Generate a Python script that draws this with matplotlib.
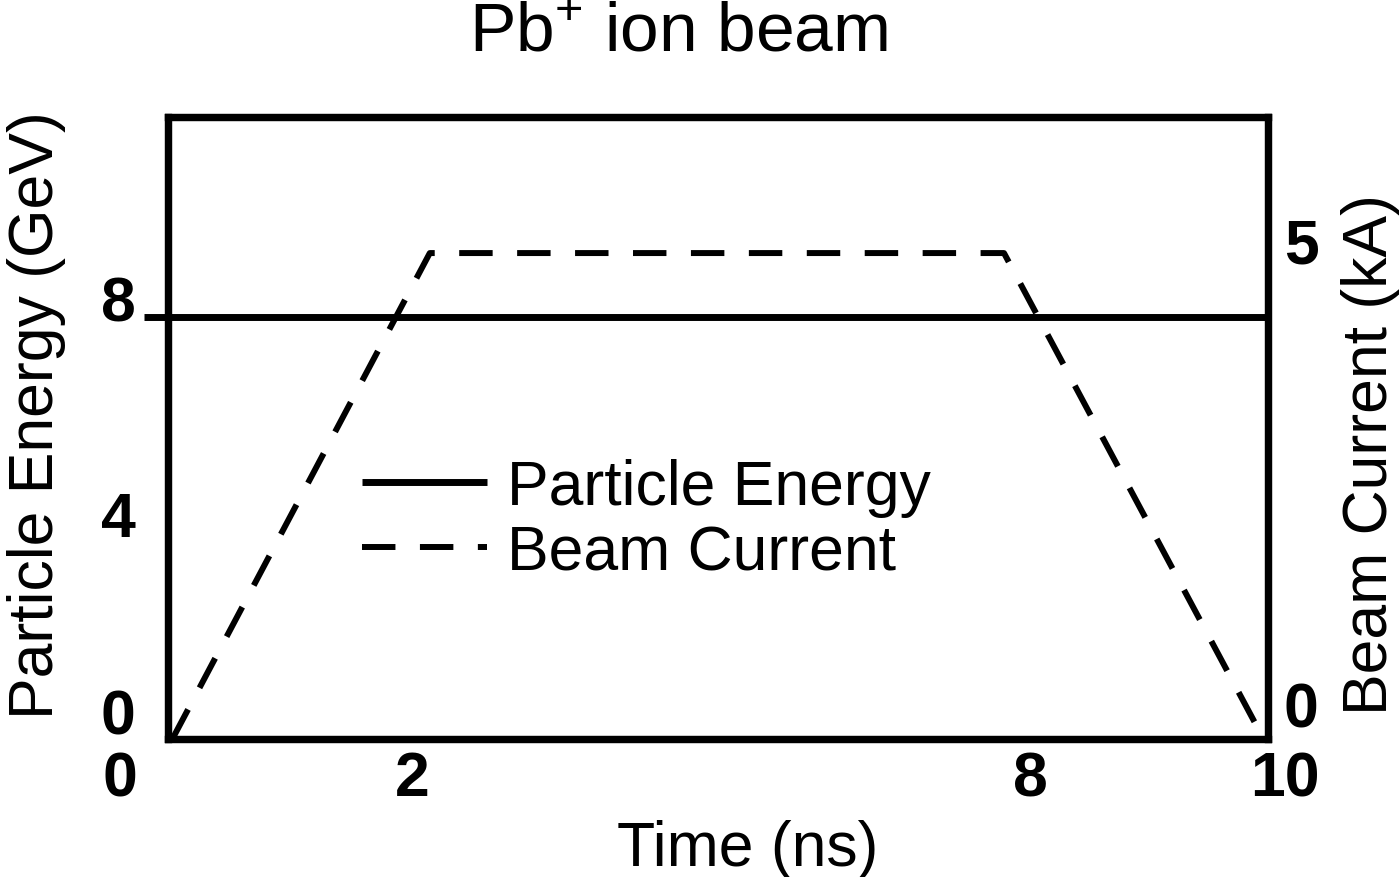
import matplotlib
matplotlib.use("Agg")
import matplotlib.pyplot as plt
from matplotlib.transforms import blended_transform_factory

plt.rcParams['font.family'] = ['Liberation Sans', 'DejaVu Sans']
plt.rcParams['mathtext.fontset'] = 'custom'
plt.rcParams['mathtext.rm'] = 'Liberation Sans'

# data
energy_t = [0, 10]
energy_gev = [8, 8]
current_t = [0.04, 2.38, 7.6, 9.96]
current_ka = [0, 5, 5, 0]

x_tick_pos = [-0.44, 2.22, 7.84, 10.15]
x_tick_labels = ["0", "2", "8", "10"]
left_ticks = [0, 4, 8]
right_ticks = [0, 5]

W, H = 1400, 878
fig = plt.figure(figsize=(14, 8.78), dpi=100)
ax = fig.add_axes([168 / W, 1 - 740 / H, 1100 / W, 622 / H])
ax2 = ax.twinx()

lw_frame = 5.2
for a in (ax, ax2):
    for s in a.spines.values():
        s.set_linewidth(lw_frame)
    a.set_xlim(0, 10)

ax.set_ylim(0, 11.79)
ax2.set_ylim(0, 6.4)

l1, = ax.plot(energy_t, energy_gev, color="black", lw=5, solid_capstyle="butt",
              label="Particle Energy", clip_on=False)
l2, = ax2.plot(current_t, current_ka, color="black", lw=4.3,
               linestyle=(0, (5.6, 4.1)), label="Beam Current")

ax.set_xticks([])
# only the 8 GeV tick is drawn, labels are placed by hand below
ax.set_yticks([8])
ax.set_yticklabels([])
ax.tick_params(axis="y", length=17, width=5, direction="out")
ax2.set_yticks([])

tfont = dict(fontsize=45, fontweight="bold", ha="center", va="center")
xb = blended_transform_factory(ax.transData, fig.transFigure)
for xp, lab in zip(x_tick_pos, x_tick_labels):
    ax.text(xp, 1 - 780 / H, lab, transform=xb, clip_on=False, **tfont)

left_off = {0: 0.42, 4: 0.17, 8: 0.25}
yb = blended_transform_factory(fig.transFigure, ax.transData)
for yv in left_ticks:
    ax.text(118 / W, yv + left_off[yv], str(yv), transform=yb, clip_on=False, **tfont)
right_off = {0: 0.3, 5: 0.07}
yb2 = blended_transform_factory(fig.transFigure, ax2.transData)
for yv in right_ticks:
    ax2.text(1301 / W, yv + right_off[yv], str(yv), transform=yb2,
             clip_on=False, **tfont)

fig.text(678 / W, 1 - 33 / H, r"Pb$^{\mathregular{+}}$ ion beam", fontsize=50,
         ha="center", va="center")
fig.text(748 / W, 1 - 850 / H, "Time (ns)", fontsize=45, ha="center", va="center")
fig.text(37 / W, 1 - 415 / H, "Particle Energy (GeV)", fontsize=45,
         rotation=90, ha="center", va="center")
fig.text(1370 / W, 1 - 455 / H, "Beam Current (kA)", fontsize=45,
         rotation=90, ha="center", va="center")

ax.legend(handles=[l1, l2], loc="center left", bbox_to_anchor=(0.176, 0.352),
          frameon=False, fontsize=45, handlelength=2.0, handletextpad=0.33,
          labelspacing=0.1, borderpad=0, borderaxespad=0)

fig.savefig("out.png", dpi=100)
